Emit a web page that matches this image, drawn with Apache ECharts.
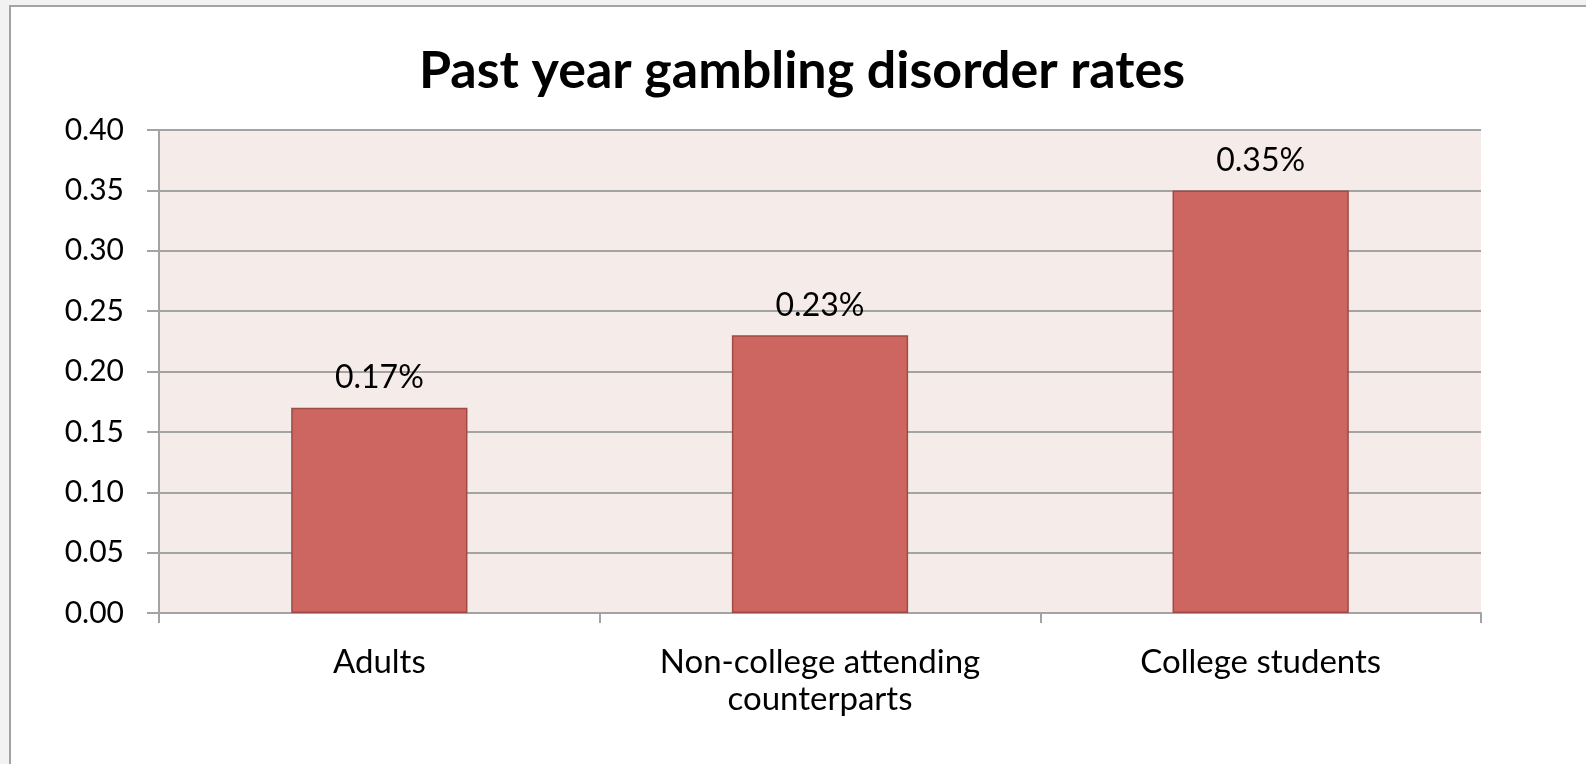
<!DOCTYPE html>
<html>
<head>
<meta charset="utf-8">
<title>Past year gambling disorder rates</title>
<script src="https://cdn.jsdelivr.net/npm/echarts@6/dist/echarts.min.js"></script>
<style>
  html, body { margin: 0; padding: 0; width: 1586px; height: 764px; overflow: hidden; background: #f2f2f2; }
  #frame { position: absolute; left: 9px; top: 5px; width: 1640px; height: 820px; background: #ffffff; border: 2px solid #a3a3a3; }
  #chart { position: absolute; left: 0; top: 0; width: 1586px; height: 764px; }
</style>
</head>
<body>
<div id="frame"></div>
<div id="chart"></div>
<script>
// Gambling disorder rates in the past year, by group (percent)
const categories = ['Adults', 'Non-college attending\ncounterparts', 'College students'];
const rates = [0.17, 0.23, 0.35];
const yTicks = { min: 0, max: 0.40, step: 0.05 };

const FONT = 'Lato, "Open Sans", sans-serif';
const chart = echarts.init(document.getElementById('chart'), null, { renderer: 'canvas' });

chart.setOption({
  backgroundColor: 'transparent',
  animation: false,
  title: {
    text: 'Past year gambling disorder rates',
    left: 797,
    top: 40,
    textAlign: 'center',
    textStyle: { fontFamily: FONT, fontWeight: 'bold', fontSize: 52, color: '#000000' }
  },
  grid: {
    left: 159, top: 130, right: 105, bottom: 151,
    show: true, backgroundColor: '#f5ecea', borderWidth: 0
  },
  xAxis: {
    type: 'category',
    data: categories,
    axisLine: { show: true, lineStyle: { color: '#a3a3a3', width: 2 } },
    axisTick: { show: true, length: 10, lineStyle: { color: '#a3a3a3', width: 2 } },
    axisLabel: {
      fontFamily: FONT, fontSize: 33, color: '#000000', margin: 31, lineHeight: 37, interval: 0
    }
  },
  yAxis: {
    type: 'value',
    min: yTicks.min,
    max: yTicks.max,
    interval: yTicks.step,
    axisLine: { show: true, lineStyle: { color: '#a3a3a3', width: 2 } },
    axisTick: { show: true, length: 12, lineStyle: { color: '#a3a3a3', width: 2 } },
    splitLine: { show: true, lineStyle: { color: '#a3a3a3', width: 2 } },
    axisLabel: {
      fontFamily: FONT, fontSize: 30, color: '#000000', margin: 35,
      formatter: v => v.toFixed(2)
    }
  },
  series: [{
    type: 'bar',
    data: rates,
    barWidth: '40%',
    itemStyle: { color: '#cd6660', borderColor: '#9f4a45', borderWidth: 1.5 },
    label: {
      show: true,
      position: 'top',
      distance: 14,
      fontFamily: FONT, fontSize: 32, color: '#000000',
      formatter: p => p.value.toFixed(2) + '%'
    }
  }]
});
</script>
</body>
</html>
